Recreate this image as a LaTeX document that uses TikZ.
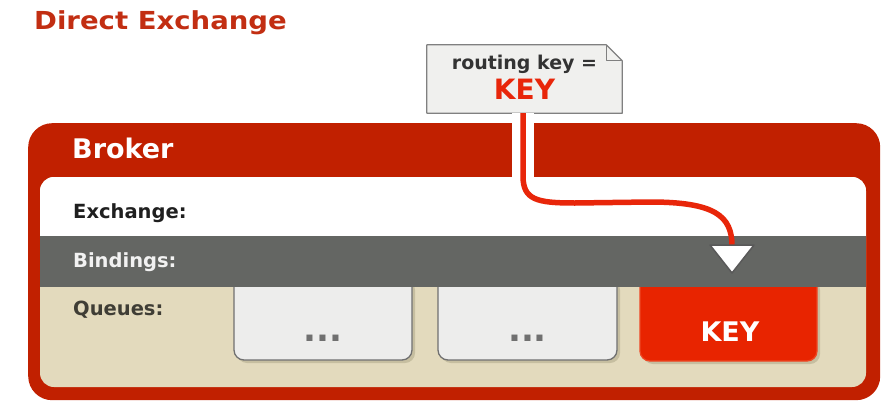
\documentclass[tikz,border=0pt]{standalone}
\usepackage{fontspec}
\usepackage{graphicx}
\setmainfont{DejaVu Sans}
\definecolor{titlered}{RGB}{194,46,18}
\definecolor{brokerred}{RGB}{193,32,0}
\definecolor{beige}{RGB}{227,218,189}
\definecolor{bandgray}{RGB}{100,102,99}
\definecolor{boxfill}{RGB}{237,237,236}
\definecolor{boxborder}{RGB}{112,112,112}
\definecolor{keyred}{RGB}{232,36,0}
\definecolor{keyborder}{RGB}{238,70,35}
\definecolor{shadowc}{RGB}{198,190,160}
\definecolor{routered}{RGB}{232,38,10}
\definecolor{notefill}{RGB}{240,240,238}
\definecolor{notedraw}{RGB}{128,128,128}
\begin{document}
\begin{tikzpicture}[x=1pt,y=-1pt,
  lbl/.style={anchor=base west, inner sep=0, font=\fontsize{19.5}{22}\selectfont\bfseries},
  qbox/.style={draw=boxborder, fill=boxfill, line width=1.3pt, rounded corners=10pt},
  qshadow/.style={fill=shadowc, rounded corners=10pt},
  dotsty/.style={anchor=base, inner sep=0, text=boxborder, font=\fontsize{34}{36}\selectfont\bfseries}]
\useasboundingbox (0,0) rectangle (896,412);
% title
\node[anchor=base west, inner sep=0, text=titlered] (title) at (34,30)
  {\scalebox{1.11}[1]{\fontsize{24.8}{28}\selectfont\bfseries Direct Exchange}};
% broker frame
\node[fill=brokerred, rounded corners=24pt, minimum width=852pt, minimum height=277pt,
  inner sep=0, anchor=north west] (broker) at (28,123) {};
\node[anchor=base west, inner sep=0, text=white, font=\fontsize{27}{30}\selectfont\bfseries]
  (brokerlbl) at (72,158) {Broker};
% inner panel
\fill[beige, rounded corners=14pt] (40,177) rectangle (866,387);
\begin{scope}
  \clip[rounded corners=14pt] (40,177) rectangle (866,387);
  \fill[white] (40,177) rectangle (866,236);
  % queue boxes
  \fill[qshadow] (237,280) -- (237,363) -- (415,363) -- (415,280) -- cycle;
  \draw[qbox] (234,280) -- (234,360) -- (412,360) -- (412,280);
  \fill[qshadow] (441,280) -- (441,363) -- (620,363) -- (620,280) -- cycle;
  \draw[qbox] (438,280) -- (438,360) -- (617,360) -- (617,280);
  \fill[qshadow] (643,280) -- (643,364) -- (820,364) -- (820,280) -- cycle;
  \draw[draw=keyborder, fill=keyred, line width=1.3pt, rounded corners=10pt]
    (640,280) -- (640,361) -- (817,361) -- (817,280);
  \fill[bandgray] (40,236) rectangle (866,287);
\end{scope}
\node[lbl, text=black!88] (exlbl) at (73,218) {Exchange:};
\node[lbl, text=white!90!gray] (bilbl) at (73,267) {Bindings:};
\node[lbl, text=black!72!beige] (qulbl) at (73,315) {Queues:};
\node[dotsty] (q1) at (323,341) {...};
\node[dotsty] (q2) at (527.5,341) {...};
\node[anchor=base, inner sep=0, text=white, font=\fontsize{27}{30}\selectfont\bfseries]
  (q3) at (730,341) {KEY};
% routing key note
\node[minimum width=195pt, minimum height=68pt, inner sep=0] (note) at (524.5,79) {};
\filldraw[fill=notefill, draw=notedraw, line width=1.2pt, line join=round]
  (note.north west) -- ([xshift=-16pt]note.north east) -- ([yshift=-16pt]note.north east)
  -- (note.south east) -- (note.south west) -- cycle;
\draw[draw=notedraw, line width=1.2pt, line join=round]
  ([xshift=-16pt]note.north east) -- ([xshift=-16pt,yshift=-16pt]note.north east)
  -- ([yshift=-16pt]note.north east);
\node[anchor=base, inner sep=0, text=black!80, font=\fontsize{19}{22}\selectfont\bfseries]
  (rk) at (524.5,70) {routing key =};
\node[anchor=base, inner sep=0, text=routered, font=\fontsize{28}{30}\selectfont\bfseries]
  (rkkey) at (524.5,99) {KEY};
% route
\coordinate (tip) at (732,246);
\coordinate (start) at ([xshift=-1.5pt]note.south);
\draw[white, line width=22pt] (start) -- ++(0,65);
\draw[routered, line width=5.5pt] (start) -- (523,176)
  .. controls (523,200) and (537,203) .. (575,203) -- (650,202)
  .. controls (715,202) and (732,216) .. (tip);
\filldraw[fill=white, draw=black!65, line width=1.5pt, line join=round]
  (710,245) -- (754,245) -- (732,273) -- cycle;
\end{tikzpicture}
\end{document}
